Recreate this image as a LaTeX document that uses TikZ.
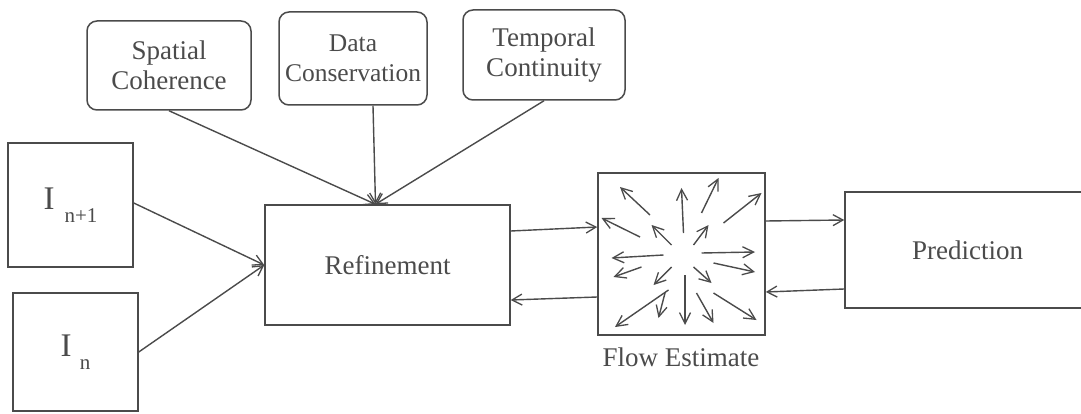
\documentclass[tikz,border=0pt]{standalone}
\usepackage{fontspec}
\setmainfont{Liberation Serif}
\usetikzlibrary{arrows.meta,calc}
\definecolor{ink}{RGB}{75,75,75}
\tikzset{
  boxnode/.style={draw=ink, line width=1.5pt, text=ink, align=center,
    inner sep=0pt, font=\fontsize{27}{30}\selectfont},
  roundnode/.style={boxnode, rounded corners=10pt},
  conn/.style={draw=ink, line width=1.4pt, -{Straight Barb[length=10pt,width=11pt,line width=1.3pt]}},
  flowarr/.style={draw=ink, line width=1.4pt, -{Straight Barb[length=11pt,width=11pt,line width=1.3pt]}},
  labelnode/.style={text=ink, font=\fontsize{27}{30}\selectfont, inner sep=0pt}
}
\begin{document}
\begin{tikzpicture}[x=1pt,y=-1pt]
\fill[white] (0,0) rectangle (1081,414);
\useasboundingbox (0,0) rectangle (1081,414);

\node[roundnode, minimum width=164pt, minimum height=89pt] (sc) at (169,65.5) {Spatial\\Coherence};
\node[roundnode, minimum width=148pt, minimum height=93pt, font=\fontsize{25.5}{30}\selectfont] (dc) at (353,58.5) {Data\\Conservation};
\node[roundnode, minimum width=162pt, minimum height=90pt] (tc) at (544,55) {Temporal\\Continuity};

\node[boxnode, minimum width=125pt, minimum height=124pt] (inp) at (70.5,205)
  {\fontsize{33}{33}\selectfont I\hspace{0.3em}\raisebox{-0.4em}{\fontsize{21}{21}\selectfont n+1}};
\node[boxnode, minimum width=125pt, minimum height=118pt] (in) at (75.5,352)
  {\fontsize{33}{33}\selectfont I\hspace{0.25em}\raisebox{-0.4em}{\fontsize{21}{21}\selectfont n}};

\node[boxnode, minimum width=245pt, minimum height=120pt] (ref) at (387.5,265) {Refinement};
\node[boxnode, minimum width=167pt, minimum height=162pt] (flow) at (681.5,254) {};
\node[labelnode] (flowlab) at (681,357) {Flow Estimate};
\node[boxnode, minimum width=245pt, minimum height=116pt] (pred) at (967.5,250) {Prediction};

% constraint arrows
\draw[conn] (sc.south) -- ([xshift=-12pt]ref.north);
\draw[conn] ([xshift=20pt]dc.south) -- ([xshift=-12pt]ref.north);
\draw[conn] (tc.south) -- ([xshift=-12pt]ref.north);

% image inputs
\draw[conn] ([yshift=2pt]inp.east) -- (ref.west);
\draw[conn] (in.east) -- (ref.west);

% refinement <-> flow
\draw[conn] ([yshift=34pt]ref.east) -- ([yshift=27pt]flow.west);
\draw[conn] ([yshift=-43pt]flow.west) -- ([yshift=-35pt]ref.east);

% flow <-> prediction
\draw[conn] ([yshift=33pt]flow.east) -- ([yshift=30pt]pred.west);
\draw[conn] ([yshift=-39pt]pred.west) -- ([yshift=-38pt]flow.east);

% flow field
\begin{scope}[shift={(flow.center)}]
\draw[flowarr] (-31.5,-39) -- (-61.5,-67);
\draw[flowarr] (2,-21) -- (0,-66);
\draw[flowarr] (20,-41) -- (37,-76);
\draw[flowarr] (42,-31) -- (80,-61);
\draw[flowarr] (-41.5,-17) -- (-80,-36);
\draw[flowarr] (-10,-9) -- (-30,-29);
\draw[flowarr] (12,-9) -- (27,-29);
\draw[flowarr] (20,-1) -- (73.5,-2);
\draw[flowarr] (-18,1) -- (-70,4);
\draw[flowarr] (-40,13) -- (-68,23);
\draw[flowarr] (32,9) -- (73.5,18);
\draw[flowarr] (-10,13) -- (-28,31);
\draw[flowarr] (12,13) -- (30,29);
\draw[flowarr] (3.5,21) -- (3.5,71);
\draw[flowarr] (-13,36) -- (-66.5,73);
\draw[flowarr] (-16.5,39) -- (-23,64);
\draw[flowarr] (15,39) -- (32,69);
\draw[flowarr] (32,39) -- (75,66);
\end{scope}
\end{tikzpicture}
\end{document}
